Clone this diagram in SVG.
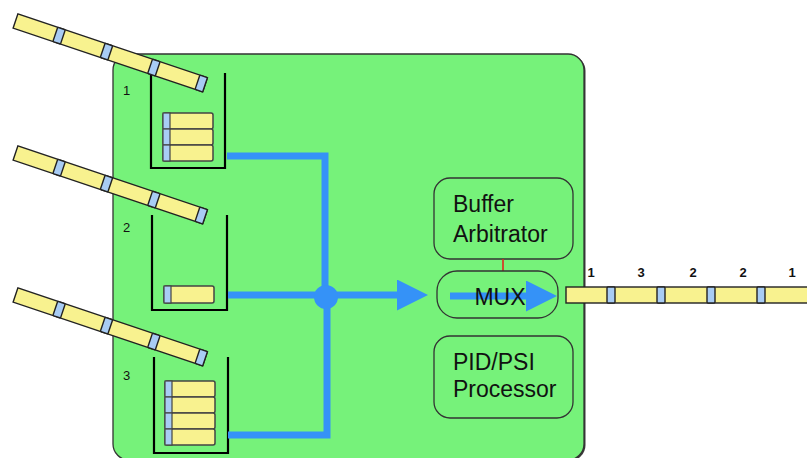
<svg xmlns="http://www.w3.org/2000/svg" xmlns:xlink="http://www.w3.org/1999/xlink" width="807" height="458" viewBox="0 0 807 458">
<style>
.pipe{fill:none;stroke:#3592F7;stroke-width:7;}
.wall{fill:none;stroke:#000;stroke-width:2.2;}
.yel{fill:#F8F28F;stroke:#222;stroke-width:1.4;}
.blu{fill:#A8CCF4;stroke:#222;stroke-width:1.4;}
.pk{fill:#F8F28F;stroke:#444;stroke-width:1.5;}
.pkb{fill:#A8CCF4;stroke:#444;stroke-width:1.2;}
.box{fill:#76F27A;stroke:#333;stroke-width:1.3;}
.lbl{font-family:"Liberation Sans",Arial,sans-serif;font-size:23px;fill:#111;}
.num{font-family:"Liberation Sans",Arial,sans-serif;font-size:13px;fill:#111;}
.onum{font-family:"Liberation Sans",Arial,sans-serif;font-size:13px;font-weight:bold;fill:#111;text-anchor:middle;}
</style>
<defs>
<marker id="ah" viewBox="0 0 31 31" refX="1" refY="15.5" markerWidth="31" markerHeight="31" markerUnits="userSpaceOnUse" orient="auto">
<path d="M0,0 L31,15.5 L0,31 z" fill="#3592F7"/>
</marker>
<g id="strip">
<rect class="yel" x="0" y="-7.5" width="200" height="15"/>
<rect class="blu" x="42" y="-7.5" width="8" height="15" rx="1"/>
<rect class="blu" x="92" y="-7.5" width="8" height="15" rx="1"/>
<rect class="blu" x="142" y="-7.5" width="8" height="15" rx="1"/>
<rect class="blu" x="192" y="-7.5" width="8" height="15" rx="1"/>
</g>
</defs>
<rect width="807" height="458" fill="#fff"/>
<g id="system">
<rect x="113" y="54" width="471" height="406" rx="16" fill="#3a3a3a" transform="translate(1.5,1)"/>
<rect class="box" x="113" y="54" width="471" height="406" rx="16"/>
</g>
<g id="buffer1">
<path class="wall" d="M151,73 V168 H225 V73"/>
<rect class="pk" x="163" y="113" width="50" height="16" rx="2"/>
<rect class="pk" x="163" y="129" width="50" height="16" rx="2"/>
<rect class="pk" x="163" y="145" width="50" height="16" rx="2"/>
<rect class="pkb" x="163" y="113" width="7" height="16"/>
<rect class="pkb" x="163" y="129" width="7" height="16"/>
<rect class="pkb" x="163" y="145" width="7" height="16"/>
<text class="num" x="123" y="95">1</text>
</g>
<g id="buffer2">
<path class="wall" d="M152,215 V310 H227 V215"/>
<rect class="pk" x="164" y="286" width="50" height="17" rx="2"/>
<rect class="pkb" x="164" y="286" width="7" height="17"/>
<text class="num" x="123" y="232">2</text>
</g>
<g id="buffer3">
<path class="wall" d="M154,357 V453 H228 V357"/>
<rect class="pk" x="165" y="381" width="50" height="16" rx="2"/>
<rect class="pk" x="165" y="397" width="50" height="16" rx="2"/>
<rect class="pk" x="165" y="413" width="50" height="16" rx="2"/>
<rect class="pk" x="165" y="429" width="50" height="16" rx="2"/>
<rect class="pkb" x="165" y="381" width="7" height="16"/>
<rect class="pkb" x="165" y="397" width="7" height="16"/>
<rect class="pkb" x="165" y="413" width="7" height="16"/>
<rect class="pkb" x="165" y="429" width="7" height="16"/>
<text class="num" x="123" y="380">3</text>
</g>
<g id="arbitrator">
<rect class="box" x="434" y="178" width="139" height="81" rx="16"/>
<text class="lbl" x="453" y="212">Buffer</text>
<text class="lbl" x="453" y="242">Arbitrator</text>
</g>
<g id="pidpsi">
<rect class="box" x="434" y="336" width="139" height="82" rx="16"/>
<text class="lbl" x="453" y="370">PID/PSI</text>
<text class="lbl" x="453" y="397">Processor</text>
</g>
<g id="connectors">
<path class="pipe" d="M227,156 H325 V298"/>
<path class="pipe" d="M228,435 H327 V298"/>
<path class="pipe" d="M228,295 H398" marker-end="url(#ah)"/>
<circle cx="326" cy="297" r="12" fill="#3592F7"/>
<path d="M503,259 V272" stroke="#E0281E" stroke-width="1.6" fill="none"/>
</g>
<g id="mux">
<rect class="box" x="437" y="271" width="121" height="47" rx="20"/>
<path class="pipe" d="M450,296 H527" marker-end="url(#ah)"/>
<text class="lbl" x="500" y="305" text-anchor="middle">MUX</text>
</g>
<g id="inputs">
<use xlink:href="#strip" transform="translate(15.5,21) rotate(18.6)"/>
<use xlink:href="#strip" transform="translate(15.5,153) rotate(18.6)"/>
<use xlink:href="#strip" transform="translate(15.5,295) rotate(18.6)"/>
</g>
<g id="output">
<rect class="yel" x="566" y="287" width="245" height="16"/>
<rect class="blu" x="607" y="287" width="8" height="16" rx="1"/>
<rect class="blu" x="657" y="287" width="8" height="16" rx="1"/>
<rect class="blu" x="707" y="287" width="8" height="16" rx="1"/>
<rect class="blu" x="757" y="287" width="8" height="16" rx="1"/>
<text class="onum" x="591" y="277">1</text>
<text class="onum" x="641" y="277">3</text>
<text class="onum" x="693" y="277">2</text>
<text class="onum" x="743" y="277">2</text>
<text class="onum" x="792" y="277">1</text>
</g>
</svg>
